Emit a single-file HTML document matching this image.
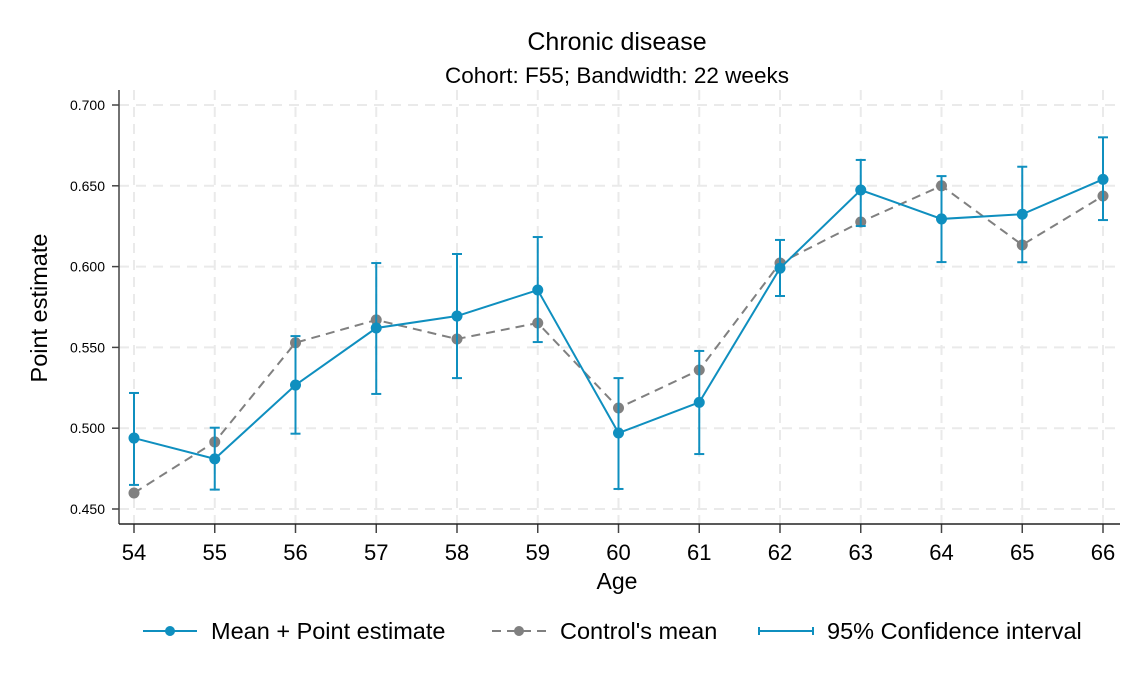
<!DOCTYPE html>
<html><head><meta charset="utf-8"><style>
body{margin:0;background:#fff;}
svg{display:block;font-family:"Liberation Sans",Arial,sans-serif;}
</style></head><body>
<svg id="chart" width="1142" height="685">
<text x="617" y="50" font-size="25" text-anchor="middle">Chronic disease</text>
<text x="617" y="83" font-size="22.5" text-anchor="middle">Cohort: F55; Bandwidth: 22 weeks</text>
<g id="grid"></g><g id="axes"></g><g id="marks"></g>
<text transform="translate(47,308) rotate(-90)" font-size="23.5" text-anchor="middle">Point estimate</text>
<text x="617" y="589" font-size="23" text-anchor="middle">Age</text>
<g>
 <g>
  <line x1="143" y1="631" x2="197" y2="631" stroke="#0f8fbf" stroke-width="2"/><circle cx="170" cy="631" r="5" fill="#0f8fbf"/>
  <text x="211" y="639" font-size="23.5">Mean + Point estimate</text></g>
 <g>
  <line x1="492" y1="631" x2="546" y2="631" stroke="#808080" stroke-width="2" stroke-dasharray="9,6"/><circle cx="519" cy="631" r="5" fill="#808080"/>
  <text x="560" y="639" font-size="23.5">Control's mean</text></g>
 <g>
  <line x1="759" y1="631" x2="813" y2="631" stroke="#0f8fbf" stroke-width="2"/><line x1="759" y1="627" x2="759" y2="635" stroke="#0f8fbf" stroke-width="2"/><line x1="813" y1="627" x2="813" y2="635" stroke="#0f8fbf" stroke-width="2"/>
  <text x="827" y="639" font-size="23.5">95% Confidence interval</text></g>
</g>
</svg>
<script>
const ages=[54,55,56,57,58,59,60,61,62,63,64,65,66];
const meanVals=[0.4939,0.481,0.5267,0.562,0.5694,0.5855,0.497,0.516,0.599,0.6474,0.6295,0.6324,0.654];
const controlVals=[0.4599,0.4915,0.5529,0.567,0.5552,0.5651,0.5125,0.536,0.6022,0.6276,0.650,0.6134,0.6437];
const ciLow=[0.4649,0.462,0.4966,0.5212,0.531,0.5533,0.4624,0.484,0.5818,0.6251,0.6028,0.6027,0.6288];
const ciHigh=[0.5218,0.5003,0.557,0.6022,0.6078,0.6183,0.531,0.5478,0.6165,0.666,0.656,0.6618,0.680];
const yTicks=[0.45,0.5,0.55,0.6,0.65,0.7];
const NS="http://www.w3.org/2000/svg";
const X=a=>134+(a-54)*(1103-134)/12;
const Y=v=>509-(v-0.45)*(509-105)/0.25;
function el(p,t,at){const e=document.createElementNS(NS,t);for(const k in at)e.setAttribute(k,at[k]);p.appendChild(e);return e;}
const grid=document.getElementById('grid'),axes=document.getElementById('axes'),marks=document.getElementById('marks');
yTicks.forEach(v=>{
 const g=el(grid,'line',{x1:119,x2:1120,y1:Y(v),y2:Y(v),stroke:'#eaeaea','stroke-width':2,'stroke-dasharray':'10,7'});
 
 
 el(axes,'line',{x1:112,x2:119,y1:Y(v),y2:Y(v),stroke:'#444','stroke-width':1.5});
 const t=el(axes,'text',{x:105,y:Y(v)+5,'font-size':14,'text-anchor':'end'});t.textContent=v.toFixed(3);
 
 
});
ages.forEach(a=>{
 const g=el(grid,'line',{x1:X(a),x2:X(a),y1:90,y2:524,stroke:'#eaeaea','stroke-width':2,'stroke-dasharray':'10,7'});
 
 
 el(axes,'line',{x1:X(a),x2:X(a),y1:524,y2:533,stroke:'#444','stroke-width':1.5});
 const t=el(axes,'text',{x:X(a),y:560,'font-size':22,'text-anchor':'middle'});t.textContent=a;
 
 
});
el(axes,'line',{x1:119,x2:119,y1:90,y2:524,stroke:'#444','stroke-width':1.5});
el(axes,'line',{x1:119,x2:1120,y1:524,y2:524,stroke:'#222','stroke-width':1.5});
const cp=el(marks,'polyline',{points:ages.map((a,i)=>X(a)+','+Y(controlVals[i])).join(' '),fill:'none',stroke:'#808080','stroke-width':2,'stroke-dasharray':'9,6'});


ages.forEach((a,i)=>{
 const c=el(marks,'circle',{cx:X(a),cy:Y(controlVals[i]),r:5.5,fill:'#808080'});
 
 
});
ages.forEach((a,i)=>{
 const g=el(marks,'g',{stroke:'#0f8fbf','stroke-width':2});
 
 
 el(g,'line',{x1:X(a),x2:X(a),y1:Y(ciLow[i]),y2:Y(ciHigh[i])});
 el(g,'line',{x1:X(a)-5,x2:X(a)+5,y1:Y(ciLow[i]),y2:Y(ciLow[i])});
 el(g,'line',{x1:X(a)-5,x2:X(a)+5,y1:Y(ciHigh[i]),y2:Y(ciHigh[i])});
});
const mp=el(marks,'polyline',{points:ages.map((a,i)=>X(a)+','+Y(meanVals[i])).join(' '),fill:'none',stroke:'#0f8fbf','stroke-width':2});


ages.forEach((a,i)=>{
 const c=el(marks,'circle',{cx:X(a),cy:Y(meanVals[i]),r:5.5,fill:'#0f8fbf'});
 
 
});
</script>
</body></html>
